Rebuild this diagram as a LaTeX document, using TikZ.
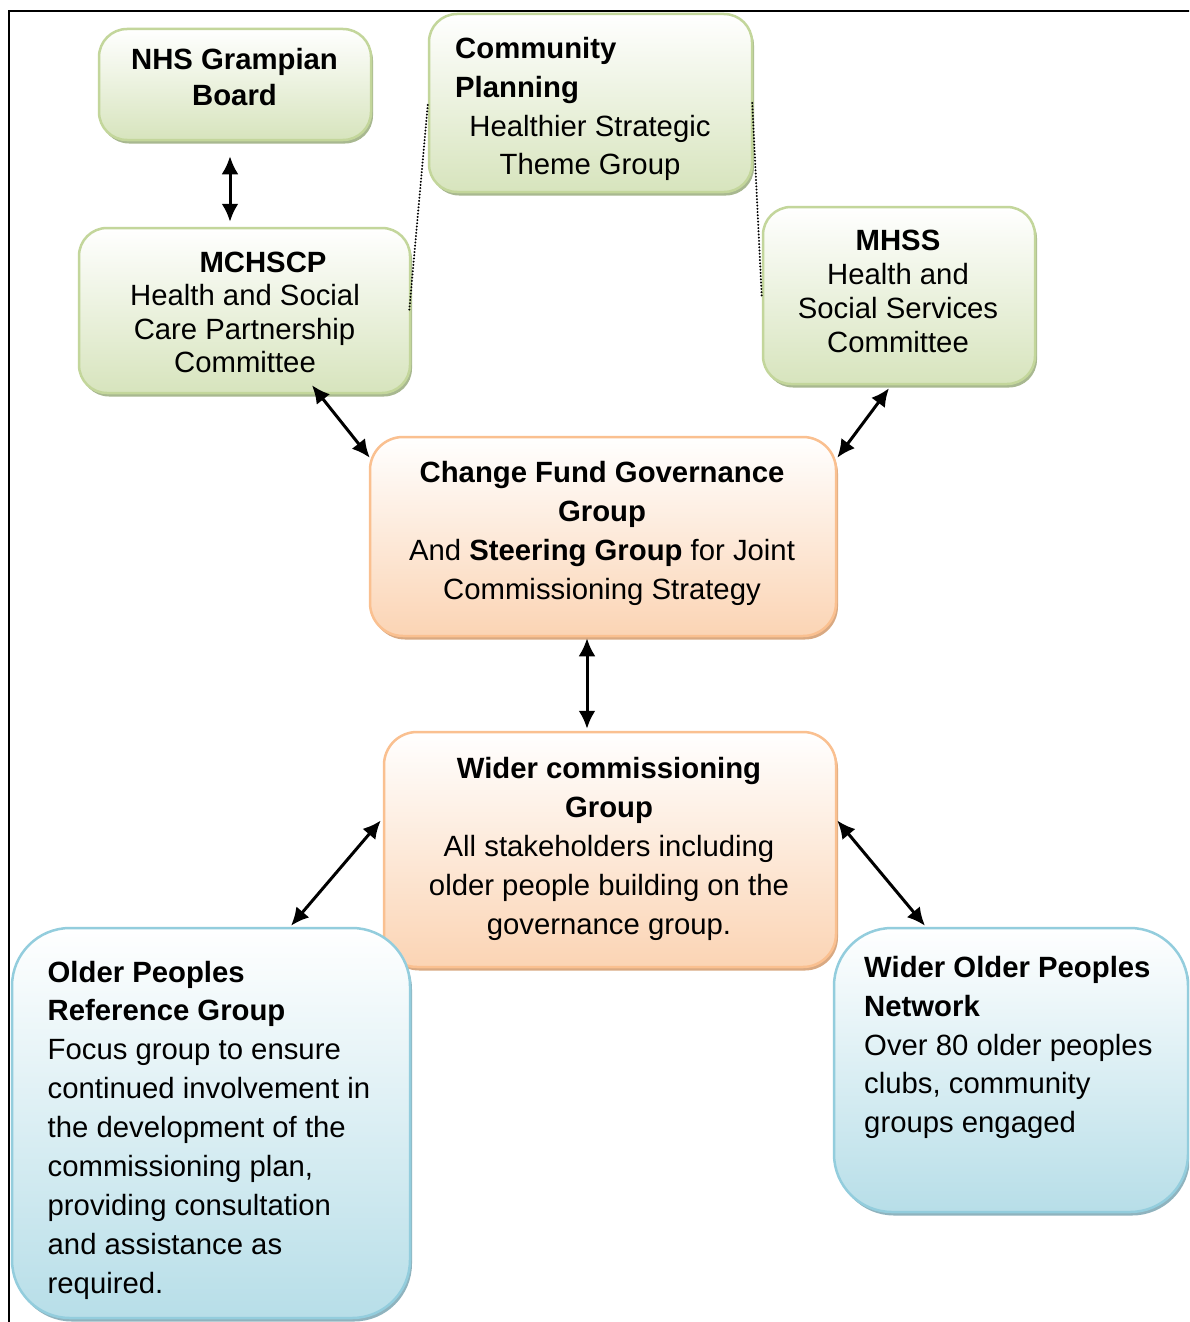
\documentclass[tikz,border=0pt]{standalone}
\usepackage{fontspec}
\setmainfont{Liberation Sans}
\usetikzlibrary{arrows.meta,shadows}
\definecolor{gborder}{HTML}{C3D69B}
\definecolor{gfill}{HTML}{D7E4BD}
\definecolor{gshadow}{HTML}{A8B890}
\definecolor{oborder}{HTML}{FAC090}
\definecolor{ofill}{HTML}{FBD4B4}
\definecolor{oshadow}{HTML}{D9A982}
\definecolor{bborder}{HTML}{93CDDD}
\definecolor{bfill}{HTML}{B7DEE8}
\definecolor{bshadow}{HTML}{8FB3BE}
\tikzset{
  box/.style={rectangle, line width=2.5pt, inner sep=0pt},
  gbox/.style={box, draw=gborder, top color=white, bottom color=gfill, rounded corners=28pt,
    drop shadow={shadow xshift=2pt, shadow yshift=-3.5pt, fill=gshadow, opacity=1}},
  obox/.style={box, draw=oborder, top color=white, bottom color=ofill, rounded corners=33pt,
    drop shadow={shadow xshift=2pt, shadow yshift=-3.5pt, fill=oshadow, opacity=1}},
  bbox/.style={box, draw=bborder, top color=white, bottom color=bfill, rounded corners=58pt,
    drop shadow={shadow xshift=2pt, shadow yshift=-3.5pt, fill=bshadow, opacity=1}},
  txt/.style={font=\fontsize{29.3}{35}\selectfont, inner sep=0pt, anchor=base},
  txtl/.style={txt, anchor=base west},
  btxt/.style={txt, font=\fontsize{29.3}{35}\selectfont\bfseries},
  btxtl/.style={btxt, anchor=base west},
  arrhead/.tip={Latex[length=18pt,width=17pt]},
  arr/.style={line width=3pt, arrhead-arrhead},
  dotline/.style={line width=2.2pt, line cap=round, dash pattern=on 0.01pt off 3.2pt},
}
\begin{document}
\begin{tikzpicture}[x=1pt,y=-1pt]
\useasboundingbox (0,0) rectangle (1189,1322);
\clip (0,0) rectangle (1189,1322);
\fill[white] (0,0) rectangle (1189,1322);
% frame
\draw[line width=1.5pt] (9,1340) -- (9,11) -- (1200,11);

% boxes
\node[gbox, minimum width=272pt, minimum height=111pt] (nhs) at (235,84.5) {};
\node[gbox, minimum width=323pt, minimum height=178pt] (comm) at (590.5,103) {};
\node[gbox, minimum width=331pt, minimum height=165pt] (mchscp) at (244.5,310.5) {};
\node[gbox, minimum width=272pt, minimum height=177pt] (mhss) at (899,295.5) {};
\node[obox, minimum width=466pt, minimum height=199pt] (chg) at (603,536.5) {};
\node[obox, minimum width=452pt, minimum height=235pt] (wider) at (610,849.5) {};
\node[bbox, minimum width=398pt, minimum height=390pt] (oldref) at (211,1123) {};
\node[bbox, minimum width=354pt, minimum height=284pt] (net) at (1011,1070) {};

% dotted links
\draw[dotline] ([yshift=-2pt]comm.west) -- ([xshift=-2pt]mchscp.east);
\draw[dotline] ([xshift=-1pt]comm.east) -- ([yshift=-1.5pt]mhss.west);

% arrows
\draw[arr] ([xshift=-5pt,yshift=-15pt]nhs.south) -- ([xshift=-14.5pt,yshift=5pt]mchscp.north);
\draw[arr] ([xshift=67.5pt,yshift=9pt]mchscp.south) -- ([xshift=1pt,yshift=-22pt]chg.north west);
\draw[arr] ([xshift=-10pt,yshift=-3pt]mhss.south) -- ([yshift=-22pt]chg.north east);
\draw[arr] ([xshift=-16pt,yshift=-1pt]chg.south) -- ([xshift=-23pt,yshift=2pt]wider.north);
\draw[arr] ([xshift=-2pt,yshift=29pt]wider.west) -- ([xshift=80pt,yshift=1pt]oldref.north);
\draw[arr] ([yshift=29pt]wider.east) -- ([xshift=-86pt,yshift=1pt]net.north);

% texts: NHS
\node[btxt] (nhs1) at (234.5,70) {NHS Grampian};
\node[btxt] (nhs2) at (234.5,105) {Board};
% Community planning
\node[btxtl] (cp1) at (455,59) {Community};
\node[btxtl] (cp2) at (455,97.5) {Planning};
\node[txt] (cp3) at (590,136) {Healthier Strategic};
\node[txt] (cp4) at (590,174) {Theme Group};
% MCHSCP
\node[btxt] (mc1) at (263,272) {MCHSCP};
\node[txt] (mc2) at (245,305.5) {Health and Social};
\node[txt] (mc3) at (244.5,339) {Care Partnership};
\node[txt] (mc4) at (245,372.5) {Committee};
% MHSS
\node[btxt] (mh1) at (898,250.5) {MHSS};
\node[txt] (mh2) at (898,284.5) {Health and};
\node[txt] (mh3) at (898,318.5) {Social Services};
\node[txt] (mh4) at (898,352.5) {Committee};
% Change fund
\node[btxt] (cf1) at (602,482.5) {Change Fund Governance};
\node[btxt] (cf2) at (602,521.5) {Group};
\node[txt] (cf3) at (602,560.5) {And \textbf{Steering Group} for Joint};
\node[txt] (cf4) at (602,599) {Commissioning Strategy};
% Wider commissioning
\node[btxt] (wc1) at (609,778.5) {Wider commissioning};
\node[btxt] (wc2) at (609,817) {Group};
\node[txt] (wc3) at (609,856) {All stakeholders including};
\node[txt] (wc4) at (609,895) {older people building on the};
\node[txt] (wc5) at (609,934) {governance group.};
% Older peoples reference group
\node[btxtl] (or1) at (47.5,982.5) {Older Peoples};
\node[btxtl] (or2) at (47.5,1020.5) {Reference Group};
\node[txtl] (or3) at (47.5,1059.5) {Focus group to ensure};
\node[txtl] (or4) at (47.5,1098.5) {continued involvement in};
\node[txtl] (or5) at (47.5,1137.5) {the development of the};
\node[txtl] (or6) at (47.5,1176.5) {commissioning plan,};
\node[txtl] (or7) at (47.5,1215.5) {providing consultation};
\node[txtl] (or8) at (47.5,1254.5) {and assistance as};
\node[txtl] (or9) at (47.5,1293.5) {required.};
% Wider older peoples network
\node[btxtl] (wn1) at (864,977.5) {Wider Older Peoples};
\node[btxtl] (wn2) at (864,1016.5) {Network};
\node[txtl] (wn3) at (864,1055.5) {Over 80 older peoples};
\node[txtl] (wn4) at (864,1093.5) {clubs, community};
\node[txtl] (wn5) at (864,1132.5) {groups engaged};
\end{tikzpicture}
\end{document}
